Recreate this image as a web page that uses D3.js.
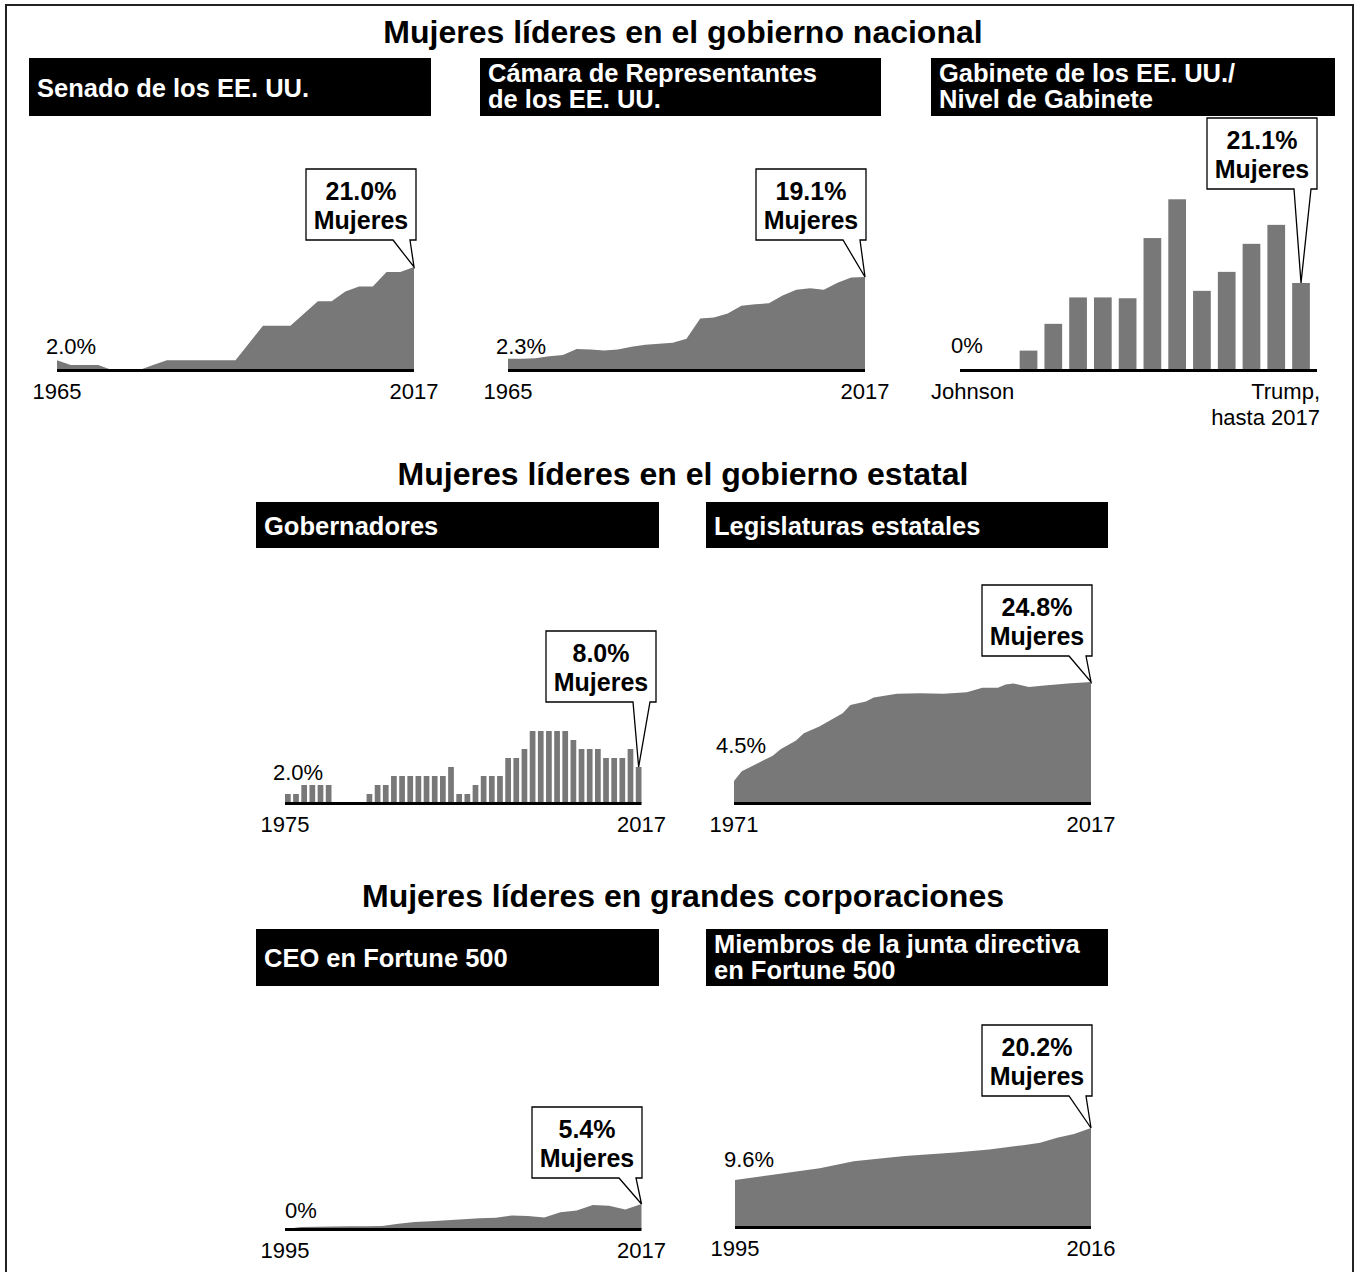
<!DOCTYPE html>
<html>
<head>
<meta charset="utf-8">
<script src="https://cdn.jsdelivr.net/npm/d3@7"></script>
<style>
  body { margin: 0; background: #fff; }
  svg { display: block; }
  text { font-family: "Liberation Sans", Arial, Helvetica, sans-serif; }
</style>
</head>
<body>
<svg id="chart" width="1361" height="1272"></svg>
<script>
// ---- data ----
const sectionTitles = [
  "Mujeres líderes en el gobierno nacional",
  "Mujeres líderes en el gobierno estatal",
  "Mujeres líderes en grandes corporaciones"
];

const senateYears  = [1965, 1967, 1969, 1971, 1973, 1975, 1977, 1979, 1981, 1983, 1985, 1987, 1989, 1991,
                      1993, 1995, 1997, 1999, 2001, 2003, 2005, 2007, 2009, 2011, 2013, 2015, 2017];
const senateValues = [2.0, 1.0, 1.0, 1.0, 0, 0, 0, 1.0, 2.0, 2.0, 2.0, 2.0, 2.0, 2.0,
                      5.5, 9.0, 9.0, 9.0, 11.5, 14.0, 14.0, 16.0, 17.0, 17.0, 20.0, 20.0, 21.0];

const houseYears  = senateYears;
const houseValues = [2.3, 2.3, 2.4, 2.8, 3.1, 4.3, 4.2, 4.0, 4.2, 4.8, 5.2, 5.4, 5.6, 6.4,
                     10.6, 10.8, 11.6, 13.2, 13.5, 13.7, 15.3, 16.5, 16.8, 16.5, 17.9, 19.0, 19.1];

const cabinetTerms  = ["Johnson", "Nixon", "Ford", "Carter", "Reagan I", "Reagan II", "Bush",
                       "Clinton I", "Clinton II", "Bush I", "Bush II", "Obama I", "Obama II", "Trump"];
const cabinetValues = [0, 0, 4.7, 11.2, 17.6, 17.6, 17.4, 32.0, 41.4, 19.2, 23.8, 30.6, 35.2, 21.1];

const governorYears  = d3.range(1974, 2018);
const governorValues = [2, 2, 4, 4, 4, 4, 0, 0, 0, 0, 2, 4, 4, 6, 6, 6, 6, 6, 6, 6, 8, 2, 2, 4, 6, 6, 6,
                        10, 10, 12, 16, 16, 16, 16, 16, 14, 12, 12, 12, 10, 10, 10, 12, 8];

const stateYears  = [1971, 1972, 1974, 1976, 1977, 1979, 1980, 1982, 1985, 1986, 1988, 1989,
                     1992, 1995, 1998, 2001, 2003, 2005, 2006, 2007, 2009, 2011, 2014, 2017];
const stateValues = [4.5, 6.5, 8.1, 9.7, 11.0, 12.8, 14.3, 15.7, 18.4, 20.1, 20.8, 21.6,
                     22.4, 22.5, 22.4, 22.7, 23.6, 23.6, 24.3, 24.5, 23.8, 24.1, 24.5, 24.8];

const ceoYears  = [1995, 1996, 1997, 1998, 1999, 2000, 2001, 2002, 2003, 2004, 2005, 2006,
                   2007, 2008, 2009, 2010, 2011, 2012, 2013, 2014, 2015, 2016, 2017];
const ceoValues = [0, 0.45, 0.5, 0.55, 0.6, 0.6, 0.65, 1.15, 1.5, 1.7, 1.9, 2.1,
                   2.3, 2.45, 2.9, 2.8, 2.5, 3.6, 4.0, 5.2, 5.0, 4.2, 5.4];

const boardYears  = [1995, 2000, 2002, 2005, 2008, 2010, 2012, 2013, 2014, 2015, 2016];
const boardValues = [9.6, 12.0, 13.4, 14.5, 15.2, 15.8, 16.7, 17.2, 18.2, 19.0, 20.2];

const startLabels   = ["2.0%", "2.3%", "0%", "2.0%", "4.5%", "0%", "9.6%"];
const calloutLabels = ["21.0%", "19.1%", "21.1%", "8.0%", "24.8%", "5.4%", "20.2%"];

// ---- layout ----
const svg = d3.select("#chart");
const fill = "#787878";

svg.append("rect")
  .attr("x", 6).attr("y", 5).attr("width", 1347).attr("height", 1290)
  .attr("fill", "none").attr("stroke", "#222").attr("stroke-width", 2);

const titleY = [43, 485, 907];
sectionTitles.forEach((t, i) => {
  svg.append("text")
    .attr("x", 683).attr("y", titleY[i])
    .attr("text-anchor", "middle")
    .attr("font-size", 32).attr("font-weight", "bold")
    .text(t);
});

const panels = [
  { title: ["Senado de los EE. UU."], box: [29, 58, 402, 58],
    kind: "area", years: senateYears, values: senateValues,
    xr: [57, 414], base: 370, tip: 267, start: [46, 354],
    ticks: ["1965", "2017"], callTop: 169, callRight: 416 },
  { title: ["Cámara de Representantes", "de los EE. UU."], box: [480, 58, 401, 58],
    kind: "area", years: houseYears, values: houseValues,
    xr: [508, 865], base: 370, tip: 277, start: [496, 354],
    ticks: ["1965", "2017"], callTop: 169, callRight: 866 },
  { title: ["Gabinete de los EE. UU./", "Nivel de Gabinete"], box: [931, 58, 404, 58],
    kind: "bars", cats: cabinetTerms, values: cabinetValues, pad: 0.285,
    xr: [966.6, 1313.4], axis: [960, 1317], base: 370, tip: 283, start: [951, 353],
    ticks: [], callTop: 118, callRight: 1317 },
  { title: ["Gobernadores"], box: [256, 502, 403, 46],
    kind: "bars", cats: governorYears, values: governorValues, pad: 0.3, outer: 0,
    xr: [285, 641.5], axis: [285, 641.5], base: 803, tip: 767, start: [273, 780],
    ticks: ["1975", "2017"], callTop: 631, callRight: 656 },
  { title: ["Legislaturas estatales"], box: [706, 502, 402, 46],
    kind: "area", years: stateYears, values: stateValues,
    xr: [734, 1091], base: 803, tip: 682, start: [716, 753],
    ticks: ["1971", "2017"], callTop: 585, callRight: 1092 },
  { title: ["CEO en Fortune 500"], box: [256, 929, 403, 57],
    kind: "area", years: ceoYears, values: ceoValues,
    xr: [285, 641.5], base: 1229, tip: 1204, start: [285, 1218],
    ticks: ["1995", "2017"], callTop: 1107, callRight: 642 },
  { title: ["Miembros de la junta directiva", "en Fortune 500"], box: [706, 929, 402, 57],
    kind: "area", years: boardYears, values: boardValues,
    xr: [735, 1091], base: 1227, tip: 1128, start: [724, 1167],
    ticks: ["1995", "2016"], callTop: 1025, callRight: 1092 }
];

panels.forEach((p, i) => {
  const g = svg.append("g");

  // black header box
  const [bx, by, bw, bh] = p.box;
  g.append("rect").attr("x", bx).attr("y", by).attr("width", bw).attr("height", bh).attr("fill", "#000");
  const lines = p.title;
  const first = lines.length === 1 ? by + bh / 2 + 9.5 : by + 24;
  lines.forEach((l, j) => {
    g.append("text")
      .attr("x", bx + 8).attr("y", first + j * 26)
      .attr("fill", "#fff").attr("font-size", 25.5).attr("font-weight", "bold")
      .text(l);
  });

  const lastVal = p.values[p.values.length - 1];
  const y = d3.scaleLinear().domain([0, lastVal]).range([p.base, p.tip]);
  let tipX, axisX;

  if (p.kind === "area") {
    const x = d3.scaleLinear().domain(d3.extent(p.years)).range(p.xr);
    const pts = p.years.map((yr, k) => ({ yr: yr, v: p.values[k] }));
    const area = d3.area().x(d => x(d.yr)).y0(p.base).y1(d => y(d.v));
    g.append("path").datum(pts).attr("d", area).attr("fill", fill);
    tipX = x(p.years[p.years.length - 1]);
    axisX = p.xr;
  } else {
    const x = d3.scaleBand().domain(p.cats).range(p.xr)
      .paddingInner(p.pad).paddingOuter(p.outer !== undefined ? p.outer : p.pad / 2);
    g.selectAll("rect.bar").data(p.cats).enter().append("rect")
      .attr("class", "bar")
      .attr("x", d => x(d))
      .attr("y", (d, k) => y(p.values[k]))
      .attr("width", x.bandwidth())
      .attr("height", (d, k) => p.base - y(p.values[k]))
      .attr("fill", fill);
    const lastCat = p.cats[p.cats.length - 1];
    tipX = x(lastCat) + x.bandwidth() / 2;
    axisX = p.axis;
  }

  // baseline
  g.append("line")
    .attr("x1", axisX[0]).attr("x2", axisX[1])
    .attr("y1", p.base + 0.5).attr("y2", p.base + 0.5)
    .attr("stroke", "#000").attr("stroke-width", 3);

  // first value label
  g.append("text").attr("x", p.start[0]).attr("y", p.start[1])
    .attr("font-size", 22).text(startLabels[i]);

  // end ticks
  if (p.ticks.length) {
    g.append("text").attr("x", axisX[0]).attr("y", p.base + 29)
      .attr("text-anchor", "middle").attr("font-size", 22).text(p.ticks[0]);
    g.append("text").attr("x", axisX[1]).attr("y", p.base + 29)
      .attr("text-anchor", "middle").attr("font-size", 22).text(p.ticks[1]);
  }

  // callout bubble
  const r = p.callRight, t = p.callTop, w = 110, h = 71, b = t + h;
  const path = d3.path();
  path.moveTo(r - w, t);
  path.lineTo(r, t);
  path.lineTo(r, b);
  path.lineTo(r - 6, b);
  path.lineTo(tipX, p.tip);
  path.lineTo(r - 23, b);
  path.lineTo(r - w, b);
  path.closePath();
  g.append("path").attr("d", path.toString())
    .attr("fill", "#fff").attr("stroke", "#000").attr("stroke-width", 1.3);
  g.append("text").attr("x", r - w / 2).attr("y", t + 31)
    .attr("text-anchor", "middle").attr("font-size", 25).attr("font-weight", "bold")
    .text(calloutLabels[i]);
  g.append("text").attr("x", r - w / 2).attr("y", t + 60)
    .attr("text-anchor", "middle").attr("font-size", 25).attr("font-weight", "bold")
    .text("Mujeres");
});

// cabinet axis labels
svg.append("text").attr("x", 931).attr("y", 399).attr("font-size", 22).text("Johnson");
svg.append("text").attr("x", 1320).attr("y", 399).attr("text-anchor", "end").attr("font-size", 22).text("Trump,");
svg.append("text").attr("x", 1320).attr("y", 425).attr("text-anchor", "end").attr("font-size", 22).text("hasta 2017");
</script>
</body>
</html>
